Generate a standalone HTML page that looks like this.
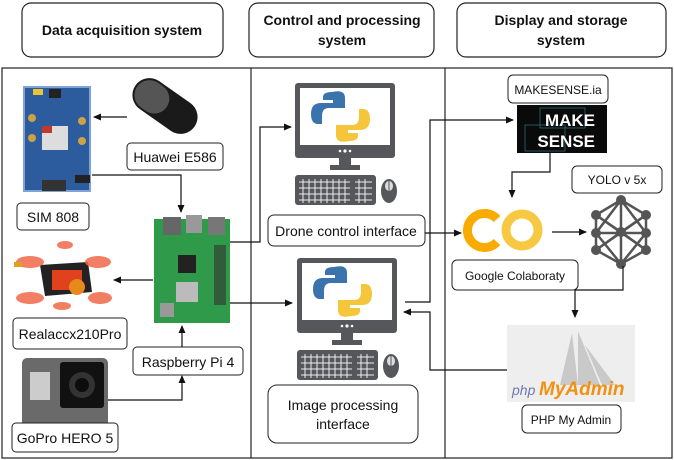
<!DOCTYPE html>
<html><head><meta charset="utf-8"><style>
html,body{margin:0;padding:0;background:#fff;}
svg{display:block;font-family:"Liberation Sans",Arial,sans-serif;}
</style></head><body>
<svg width="674" height="460" viewBox="0 0 674 460" xmlns="http://www.w3.org/2000/svg">
<defs>
<marker id="a" markerWidth="8" markerHeight="8" refX="7" refY="4" orient="auto" markerUnits="userSpaceOnUse"><path d="M0,0.5 L8,4 L0,7.5z" fill="#111"/></marker>
<g id="pc">
  <rect x="295" y="83" width="100" height="75" rx="3" fill="#55575a"/>
  <rect x="300" y="88" width="90" height="57" fill="#fff"/>
  <circle cx="340" cy="151" r="1.3" fill="#fff"/><circle cx="345" cy="151" r="1.6" fill="#fff"/><circle cx="350" cy="151" r="1.3" fill="#fff"/>
  <rect x="339" y="158" width="12" height="8" fill="#55575a"/>
  <rect x="330" y="165" width="30" height="5" fill="#55575a"/>
  <path d="M332,92 q13,-3 13,6 v10 h-16 q-7,0 -7,8 v8 h-5 q-6,-1 -6,-10 q0,-11 10,-11 h12 v-3 h-10 v-3 q0,-5 9,-5z" fill="#3b74ad"/>
  <path d="M349,141 q-13,3 -13,-6 v-10 h16 q7,0 7,-8 v-8 h5 q6,1 6,10 q0,11 -10,11 h-12 v3 h10 v3 q0,5 -9,5z" fill="#f5c63c"/>
  <rect x="295" y="175" width="81" height="30" rx="3" fill="#55575a"/>
  <g stroke="#eee" stroke-width="1">
    <path d="M299,182h51M299,188h51M299,194h51M299,200h51M355,182h17M355,188h17M355,194h17M355,200h17"/>
    <path d="M303,179v24M309,179v24M315,179v24M321,179v24M327,179v24M333,179v24M339,179v24M345,179v24M359,179v24M365,179v24"/>
  </g>
  <ellipse cx="389" cy="191" rx="8" ry="12" fill="#55575a"/>
  <ellipse cx="389" cy="186" rx="4" ry="5" fill="#ddd"/><line x1="389" y1="181" x2="389" y2="191" stroke="#55575a"/>
</g>
</defs>

<!-- headers -->
<g fill="#fff" stroke="#222" stroke-width="1.2">
<rect x="22" y="3" width="201" height="54" rx="9"/>
<rect x="249" y="3" width="185" height="54" rx="9"/>
<rect x="457" y="3" width="209" height="54" rx="9"/>
</g>
<g font-size="14" font-weight="bold" fill="#111" text-anchor="middle">
<text x="122" y="35">Data acquisition system</text>
<text x="342" y="25">Control and processing</text>
<text x="342" y="45">system</text>
<text x="561" y="25">Display and storage</text>
<text x="561" y="45">system</text>
</g>

<!-- frame -->
<rect x="2" y="68" width="670" height="390" fill="none" stroke="#222" stroke-width="1.2"/>
<line x1="251" y1="68" x2="251" y2="458" stroke="#222" stroke-width="1.2"/>
<line x1="445" y1="68" x2="445" y2="458" stroke="#222" stroke-width="1.2"/>

<!-- SIM808 board -->
<rect x="24" y="87" width="66" height="104" fill="#2c5c9e"/>
<rect x="24" y="87" width="66" height="104" fill="none" stroke="#7ea3d4" stroke-width="2"/>
<rect x="33" y="89" width="10" height="6" fill="#e8c534"/><rect x="49" y="89" width="12" height="9" fill="#222"/>
<rect x="42" y="126" width="26" height="24" fill="#ddd"/><rect x="42" y="126" width="10" height="7" fill="#c0392b"/>
<circle cx="32" cy="118" r="4" fill="#c9a344"/><circle cx="82" cy="121" r="4" fill="#c9a344"/><circle cx="82" cy="141" r="4" fill="#c9a344"/><circle cx="32" cy="138" r="4" fill="#c9a344"/>
<rect x="42" y="180" width="24" height="11" fill="#333"/><rect x="75" y="175" width="15" height="8" fill="#222"/>

<!-- Huawei -->
<g transform="rotate(35 165 106)">
<rect x="129" y="89" width="72" height="34" rx="17" fill="#1a1a1a"/>
<rect x="131" y="91" width="36" height="30" rx="15" fill="#555"/>
</g>

<!-- Drone -->
<g>
<path d="M40,265 L88,262 L92,292 L45,296z" fill="#222"/>
<rect x="52" y="270" width="30" height="20" fill="#e0421d"/>
<circle cx="77" cy="287" r="8" fill="#e8891c"/>
<g fill="#f0684a" opacity="0.85">
<ellipse cx="30" cy="262" rx="14" ry="6"/><ellipse cx="98" cy="262" rx="13" ry="6"/>
<ellipse cx="30" cy="298" rx="14" ry="6"/><ellipse cx="100" cy="298" rx="12" ry="6"/>
<ellipse cx="65" cy="245" rx="8" ry="4"/><ellipse cx="62" cy="306" rx="9" ry="4"/>
</g>
<rect x="14" y="262" width="8" height="5" fill="#e0a020"/>
</g>

<!-- Raspberry Pi -->
<rect x="154" y="219" width="76" height="104" fill="#2e9a4a"/>
<rect x="163" y="217" width="18" height="18" fill="#666"/><rect x="186" y="215" width="16" height="18" fill="#999"/><rect x="208" y="217" width="17" height="18" fill="#777"/>
<rect x="178" y="255" width="18" height="18" fill="#222"/>
<rect x="176" y="282" width="22" height="20" fill="#bbb"/>
<rect x="160" y="303" width="14" height="14" fill="#999"/>
<rect x="214" y="245" width="12" height="60" fill="#333" opacity="0.6"/>

<!-- GoPro -->
<rect x="22" y="358" width="86" height="88" rx="5" fill="#6a6a6a"/>
<rect x="60" y="362" width="44" height="46" rx="3" fill="#111"/>
<circle cx="82" cy="385" r="13" fill="#333"/><circle cx="82" cy="385" r="7" fill="#0d0d0d"/>
<rect x="30" y="372" width="20" height="28" fill="#ccc"/>

<!-- Computers -->
<use href="#pc"/>
<use href="#pc" transform="translate(2,175)"/>

<!-- MakeSense -->
<rect x="517" y="105" width="90" height="48" fill="#0a0a0a"/>
<g stroke="#2a6b78" stroke-width="0.8" fill="none"><rect x="540" y="108" width="45" height="20"/><rect x="525" y="125" width="40" height="26"/></g>
<text x="595" y="126" font-size="17" fill="#fff" text-anchor="end" font-weight="bold">MAKE</text>
<text x="595" y="147" font-size="17" fill="#fff" text-anchor="end" font-weight="bold">SENSE</text>

<!-- Colab -->
<path d="M497,219 A17,17 0 1 0 497,242" fill="none" stroke="#f9ab00" stroke-width="9"/>
<circle cx="522" cy="230" r="16" fill="none" stroke="#f7c842" stroke-width="9"/>

<!-- NN -->
<g stroke="#555" stroke-width="2.5" fill="none">
<path d="M621,200 L596,215 L596,233 L596,250 L621,264 L646,250 L646,233 L646,215 Z M621,200 L621,232 L621,264 M596,215 L646,250 M646,215 L596,250 M596,233 L646,233 M596,215 L621,232 L646,215 M596,250 L621,232 L646,250 M621,200 L596,233 M621,200 L646,233 M621,264 L596,233 M621,264 L646,233"/>
</g>
<g fill="#555"><circle cx="621" cy="200" r="5"/><circle cx="596" cy="215" r="5"/><circle cx="596" cy="233" r="5"/><circle cx="596" cy="250" r="5"/><circle cx="621" cy="264" r="5"/><circle cx="646" cy="250" r="5"/><circle cx="646" cy="233" r="5"/><circle cx="646" cy="215" r="5"/><circle cx="621" cy="232" r="5"/></g>

<!-- phpMyAdmin -->
<rect x="507" y="325" width="128" height="77" fill="#eeeeee"/>
<path d="M572,333 L560,385 L578,385z M578,331 L578,385 L600,385z M585,345 L602,385 L615,385z" fill="#c9c9c9"/>
<text x="512" y="395" font-size="14" font-style="italic" fill="#6c78af">php</text>
<text x="539" y="395" font-size="19" font-style="italic" font-weight="bold" fill="#f29111">MyAdmin</text>

<!-- label boxes -->
<g fill="#fff" stroke="#222" stroke-width="1">
<rect x="127" y="143" width="96" height="27" rx="4"/>
<rect x="17" y="203" width="72" height="27" rx="4"/>
<rect x="13" y="318" width="114" height="31" rx="4"/>
<rect x="133" y="347" width="110" height="28" rx="4"/>
<rect x="12" y="423" width="106" height="29" rx="4"/>
<rect x="268" y="215" width="157" height="31" rx="6"/>
<rect x="268" y="385" width="150" height="58" rx="9"/>
<rect x="508" y="75" width="100" height="28" rx="5"/>
<rect x="572" y="166" width="90" height="27" rx="5"/>
<rect x="452" y="260" width="126" height="30" rx="5"/>
<rect x="522" y="405" width="99" height="28" rx="5"/>
</g>
<g font-size="14" fill="#111" text-anchor="middle">
<text x="175" y="162">Huawei E586</text>
<text x="53" y="222">SIM 808</text>
<text x="70" y="339">Realaccx210Pro</text>
<text x="188" y="367">Raspberry Pi 4</text>
<text x="65" y="443">GoPro HERO 5</text>
<text x="346" y="236">Drone control interface</text>
<text x="343" y="410">Image processing</text>
<text x="343" y="429">interface</text>
</g>
<g font-size="12" fill="#111" text-anchor="middle">
<text x="558" y="94">MAKESENSE.ia</text>
<text x="617" y="184">YOLO v 5x</text>
<text x="515" y="280">Google Colaboraty</text>
<text x="571" y="424">PHP My Admin</text>
</g>

<!-- connectors -->
<g stroke="#111" stroke-width="1.2" fill="none" marker-end="url(#a)">
<path d="M127,117 H94"/>
<path d="M92,175 H181 V212"/>
<path d="M153,280 H114"/>
<path d="M182,347 V326"/>
<path d="M108,400 H182 V376"/>
<path d="M230,242 H260 V127 H291"/>
<path d="M230,303 H292"/>
<path d="M405,302 H430 V120 H513"/>
<path d="M507,370 H430 V312 H404"/>
<path d="M425,233 H461"/>
<path d="M550,153 V172 H512 V197"/>
<path d="M552,232 H586"/>
<path d="M623,266 V290 H575 V317"/>
</g>
</svg>
</body></html>
